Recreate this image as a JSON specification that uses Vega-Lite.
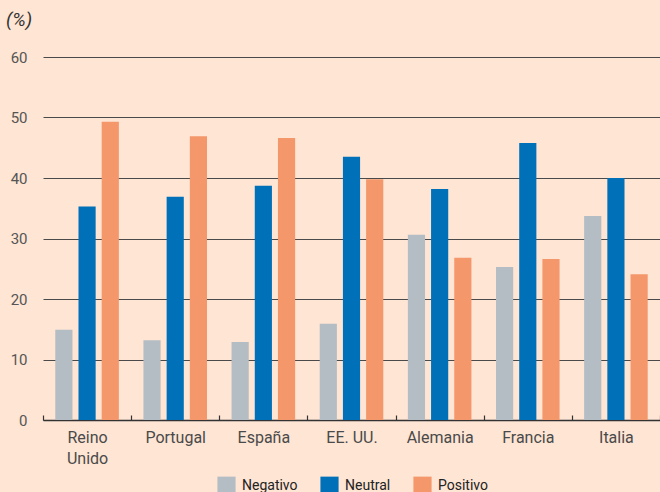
{
  "$schema": "https://vega.github.io/schema/vega-lite/v6.json",
  "autosize": "none",
  "width": 617,
  "height": 363,
  "padding": {"left": 43, "top": 57, "right": 0, "bottom": 72},
  "background": "#fee5d4",
  "config": {
    "view": {"stroke": null},
    "font": "Roboto"
  },
  "title": {
    "text": "(%)",
    "anchor": "start",
    "frame": "group",
    "dx": -37,
    "offset": 20,
    "font": "Roboto",
    "fontStyle": "italic",
    "fontWeight": "normal",
    "fontSize": 19,
    "color": "#333333"
  },
  "data": {
    "values": [
      {"pais": "Reino Unido", "tipo": "Negativo", "valor": 14.9},
      {"pais": "Reino Unido", "tipo": "Neutral", "valor": 35.3},
      {"pais": "Reino Unido", "tipo": "Positivo", "valor": 49.3},
      {"pais": "Portugal", "tipo": "Negativo", "valor": 13.2},
      {"pais": "Portugal", "tipo": "Neutral", "valor": 36.9},
      {"pais": "Portugal", "tipo": "Positivo", "valor": 46.9},
      {"pais": "España", "tipo": "Negativo", "valor": 12.9},
      {"pais": "España", "tipo": "Neutral", "valor": 38.7},
      {"pais": "España", "tipo": "Positivo", "valor": 46.6},
      {"pais": "EE. UU.", "tipo": "Negativo", "valor": 15.9},
      {"pais": "EE. UU.", "tipo": "Neutral", "valor": 43.5},
      {"pais": "EE. UU.", "tipo": "Positivo", "valor": 39.8},
      {"pais": "Alemania", "tipo": "Negativo", "valor": 30.6},
      {"pais": "Alemania", "tipo": "Neutral", "valor": 38.2},
      {"pais": "Alemania", "tipo": "Positivo", "valor": 26.8},
      {"pais": "Francia", "tipo": "Negativo", "valor": 25.3},
      {"pais": "Francia", "tipo": "Neutral", "valor": 45.8},
      {"pais": "Francia", "tipo": "Positivo", "valor": 26.6},
      {"pais": "Italia", "tipo": "Negativo", "valor": 33.7},
      {"pais": "Italia", "tipo": "Neutral", "valor": 40.0},
      {"pais": "Italia", "tipo": "Positivo", "valor": 24.1}
    ]
  },
  "mark": {"type": "bar"},
  "encoding": {
    "x": {
      "field": "pais",
      "type": "nominal",
      "sort": null,
      "scale": {"paddingInner": 0, "paddingOuter": 0},
      "axis": {
        "title": null,
        "labelAngle": 0,
        "tickBand": "extent",
        "labelExpr": "datum.label == 'Reino Unido' ? ['Reino', 'Unido'] : datum.label",
        "labelFontSize": 16,
        "labelColor": "#4a4a4a",
        "labelPadding": 14,
        "labelLineHeight": 21,
        "domainColor": "#333333",
        "domainWidth": 1.5,
        "tickColor": "#333333",
        "tickWidth": 1.2,
        "tickSize": -5
      }
    },
    "xOffset": {
      "field": "tipo",
      "type": "nominal",
      "scale": {"paddingInner": 0.26, "paddingOuter": 0.53}
    },
    "y": {
      "field": "valor",
      "type": "quantitative",
      "scale": {"domain": [0, 60]},
      "axis": {
        "title": null,
        "values": [0, 10, 20, 30, 40, 50, 60],
        "domain": false,
        "ticks": false,
        "labelPadding": 16,
        "labelFontSize": 15,
        "labelColor": "#555555",
        "gridColor": "#4a4a4a",
        "gridWidth": 1
      }
    },
    "color": {
      "field": "tipo",
      "type": "nominal",
      "scale": {
        "domain": ["Negativo", "Neutral", "Positivo"],
        "range": ["#b3bdc3", "#0071b8", "#f4976a"]
      },
      "legend": {
        "title": null,
        "orient": "none",
        "direction": "horizontal",
        "legendX": 174,
        "legendY": 419,
        "symbolType": "square",
        "symbolSize": 330,
        "symbolStrokeWidth": 0,
        "symbolOpacity": 1,
        "labelFontSize": 14,
        "labelColor": "#222222",
        "labelOffset": 6,
        "columnPadding": 22
      }
    }
  }
}
